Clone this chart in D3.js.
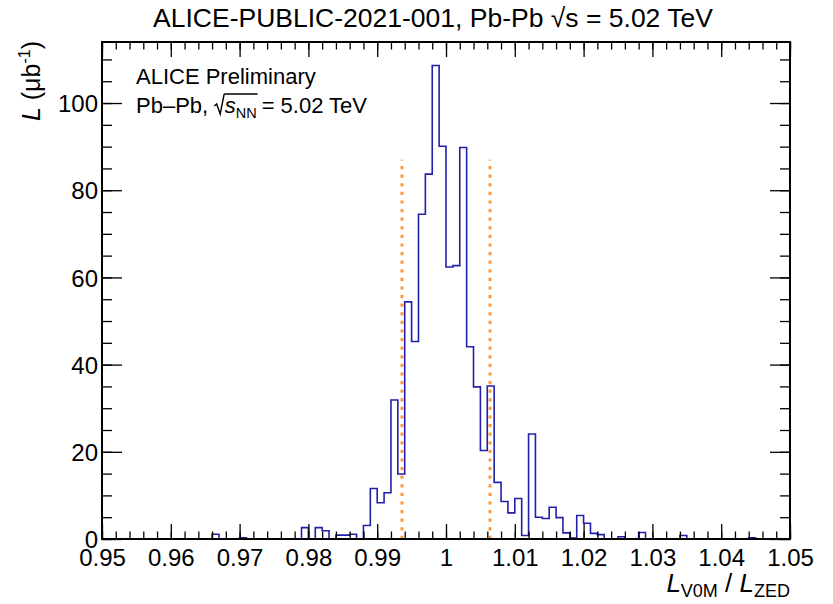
<!DOCTYPE html>
<html>
<head>
<meta charset="utf-8">
<script src="https://cdn.jsdelivr.net/npm/d3@7"></script>
<style>
  body { margin: 0; background: #fff; }
  text { font-family: "Liberation Sans", Arial, Helvetica, sans-serif; fill: #000; white-space: pre; }
</style>
</head>
<body>
<svg id="chart" width="833" height="604"></svg>
<script>
// Luminosity per bin of the V0M / ZED luminosity ratio (bin width 0.001, starting at 0.95)
const binStart = 0.95;
const binWidth = 0.001;
const lumi = [
  0, 0, 0, 0, 0, 0, 0, 0, 0, 0,
  0, 0, 0, 0, 0, 0, 1.1, 0, 0, 0,
  0.3, 0, 0, 0, 0, 0, 0, 0, 0, 2.6,
  0, 2.6, 1.9, 0, 0.9, 0.9, 1.1, 0, 3.1, 11.6,
  8.3, 10.6, 31.9, 14.9, 54.4, 45.3, 74.5, 83.7, 108.6, 90.1,
  62.4, 62.7, 89.8, 44.1, 34.9, 20.3, 35.1, 13.0, 8.6, 6.0,
  9.3, 0.8, 24.1, 5.0, 4.7, 7.3, 4.9, 1.4, 0.2, 5.4,
  3.6, 1.3, 1.0, 0, 0, 0.5, 0, 0, 1.5, 0,
  0, 0, 0, 0, 0.8, 0, 0, 0, 0, 0,
  0, 0, 0, 0, 0.3, 0, 0, 0, 0, 0
];

// Selection window on the ratio
const cutLow = 0.9936;
const cutHigh = 1.0064;
const cutHeight = 87;

// Axis ticks
const xMajor = [0.95, 0.96, 0.97, 0.98, 0.99, 1.00, 1.01, 1.02, 1.03, 1.04, 1.05];
const xMajorLabels = ["0.95", "0.96", "0.97", "0.98", "0.99", "1", "1.01", "1.02", "1.03", "1.04", "1.05"];
const xMinor = d3.range(0, 51).map(k => +(0.95 + k * 0.002).toFixed(3));
const yMajor = [0, 20, 40, 60, 80, 100];
const yMinor = d3.range(0, 115, 5);

const svg = d3.select("#chart");
svg.append("rect").attr("width", 833).attr("height", 604).attr("fill", "#fff");

const L = 102, R = 790, T = 42, B = 539;
const x = d3.scaleLinear().domain([0.95, 1.05]).range([L, R]);
const y = d3.scaleLinear().domain([0, 114]).range([B, T]);

// Title
svg.append("text")
  .attr("x", 433).attr("y", 27)
  .attr("text-anchor", "middle")
  .attr("font-size", 26.5)
  .text("ALICE-PUBLIC-2021-001, Pb-Pb \u221As = 5.02 TeV");

// Histogram as a step outline
const pts = [[x(binStart), y(0)]];
lumi.forEach((v, i) => {
  const x0 = x(binStart + i * binWidth), x1 = x(binStart + (i + 1) * binWidth);
  pts.push([x0, y(v)], [x1, y(v)]);
});
pts.push([x(binStart + lumi.length * binWidth), y(0)]);
svg.append("path")
  .attr("d", d3.line()(pts))
  .attr("fill", "none")
  .attr("stroke", "#2020a8")
  .attr("stroke-width", 1.6);

// Cut lines
svg.selectAll("line.cut").data([cutLow, cutHigh]).join("line")
  .attr("class", "cut")
  .attr("x1", d => x(d)).attr("x2", d => x(d))
  .attr("y1", y(0)).attr("y2", y(cutHeight))
  .attr("stroke", "#fb9a3e")
  .attr("stroke-width", 3)
  .attr("stroke-dasharray", "3.2 5.4");

// Axes: ticks point inward on all four sides
function tickOnly(g) { g.select(".domain").remove(); g.selectAll("text").remove(); }

svg.append("g").attr("transform", `translate(0,${B})`)
  .call(d3.axisBottom(x).tickValues(xMinor).tickSize(-7.5)).call(tickOnly);
svg.append("g").attr("transform", `translate(0,${T})`)
  .call(d3.axisTop(x).tickValues(xMinor).tickSize(-7.5)).call(tickOnly);
svg.append("g").attr("transform", `translate(0,${T})`)
  .call(d3.axisTop(x).tickValues(xMajor).tickSize(-15)).call(tickOnly);
const xAxis = svg.append("g").attr("transform", `translate(0,${B})`)
  .call(d3.axisBottom(x).tickValues(xMajor).tickSize(-15)
    .tickFormat((d, i) => xMajorLabels[i]));
xAxis.select(".domain").remove();
xAxis.selectAll("text").attr("y", 27).attr("dy", null)
  .attr("font-size", 24).attr("font-family", null);

svg.append("g").attr("transform", `translate(${L},0)`)
  .call(d3.axisLeft(y).tickValues(yMinor).tickSize(-10)).call(tickOnly);
svg.append("g").attr("transform", `translate(${R},0)`)
  .call(d3.axisRight(y).tickValues(yMinor).tickSize(-10)).call(tickOnly);
svg.append("g").attr("transform", `translate(${R},0)`)
  .call(d3.axisRight(y).tickValues(yMajor).tickSize(-20)).call(tickOnly);
const yAxis = svg.append("g").attr("transform", `translate(${L},0)`)
  .call(d3.axisLeft(y).tickValues(yMajor).tickSize(-20).tickPadding(4));
yAxis.select(".domain").remove();
yAxis.selectAll("text").attr("font-size", 24).attr("font-family", null).attr("dy", "0.36em");
svg.selectAll(".tick line").attr("stroke", "#000").attr("stroke-width", 1.3);

// Frame
svg.append("rect")
  .attr("x", L).attr("y", T).attr("width", R - L).attr("height", B - T)
  .attr("fill", "none").attr("stroke", "#000").attr("stroke-width", 2);

// Axis titles
const yt = svg.append("text")
  .attr("transform", `translate(40,${T - 1}) rotate(-90)`)
  .attr("text-anchor", "end")
  .attr("font-size", 25);
yt.append("tspan").attr("font-style", "italic").text("L");
yt.append("tspan").text(" (\u03BCb");
yt.append("tspan").attr("font-size", 16).attr("dy", -10).text("-1");
yt.append("tspan").attr("dy", 10).text(")");

const xt = svg.append("text")
  .attr("x", R).attr("y", 592)
  .attr("text-anchor", "end")
  .attr("font-size", 26);
xt.append("tspan").attr("font-style", "italic").text("L");
xt.append("tspan").attr("font-size", 18).attr("dy", 5).text("V0M");
xt.append("tspan").attr("dy", -5).text(" / ");
xt.append("tspan").attr("font-style", "italic").text("L");
xt.append("tspan").attr("font-size", 18).attr("dy", 5).text("ZED");

// Annotation
svg.append("text").attr("x", 136).attr("y", 84).attr("font-size", 22).text("ALICE Preliminary");

const base = 113;
let cx = 136;
function piece(str, opts = {}) {
  const t = svg.append("text").attr("x", cx).attr("y", base + (opts.dy || 0))
    .attr("font-size", opts.size || 22)
    .attr("font-style", opts.italic ? "italic" : null)
    .text(str);
  const w = t.node().getComputedTextLength();
  const x0 = cx;
  cx += w;
  return { x0, x1: cx };
}
piece("Pb\u2013Pb,");
cx += 6;
// radical sign drawn as a path, then the radicand with its bar
const radX = cx;
svg.append("path")
  .attr("d", `M${radX},${base - 7} L${radX + 2.5},${base - 9} L${radX + 6},${base + 1} L${radX + 10},${base - 19}`)
  .attr("fill", "none").attr("stroke", "#000").attr("stroke-width", 1.4);
cx += 10.5;
piece("s", { italic: true });
const nn = piece("NN", { size: 14.5, dy: 5 });
svg.append("line")
  .attr("x1", radX + 10).attr("x2", nn.x1 + 1)
  .attr("y1", base - 19).attr("y2", base - 19)
  .attr("stroke", "#000").attr("stroke-width", 1.4);
cx += 5;
piece("= 5.02 TeV");
</script>
</body>
</html>
